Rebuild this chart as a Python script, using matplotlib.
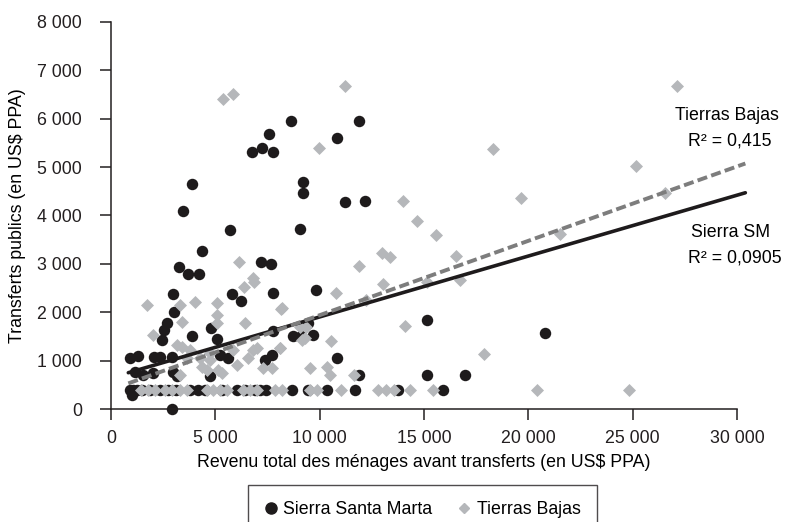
import numpy as np
import matplotlib
matplotlib.use("Agg")
import matplotlib.pyplot as plt
from matplotlib.lines import Line2D

# Sierra Santa Marta households (black circles)
sierra_x = [8640, 11880, 7590, 6740, 7220, 7780, 10830, 11220, 12150, 3900,
            3440, 9180, 9210, 5700, 9060, 4370, 3270, 3670, 4220, 7180,
            7650, 2990, 5820, 6210, 7780, 9820, 3010, 2700, 2520, 2430,
            3880, 4800, 5060, 7780, 8700, 9090, 9680, 9420,
            900, 1290, 2060, 2350, 2910, 5230, 5620, 7380, 7700, 10830,
            1150, 1550, 2030, 2990, 3150, 4760, 990, 2900,
            15130, 20790, 11870, 15140, 16980]
sierra_y = [5960, 5960, 5680, 5320, 5400, 5320, 5610, 4270, 4290, 4660,
            4100, 4700, 4460, 3710, 3730, 3270, 2930, 2800, 2800, 3040,
            2995, 2375, 2370, 2240, 2390, 2450, 2000, 1770, 1640, 1425,
            1510, 1670, 1440, 1615, 1510, 1510, 1520, 1770,
            1060, 1100, 1080, 1070, 1080, 1110, 1050, 1020, 1120, 1050,
            760, 700, 740, 770, 680, 690, 280, 0,
            1850, 1570, 710, 710, 710]
# households receiving the flat ~400 transfer
sierra_row_x = [910, 1050, 1250, 1490, 1870, 2350, 2730, 3115, 3790, 4170,
                4500, 5320, 6040, 6420, 6900, 7140, 7430, 8660, 9455, 10350,
                11690, 13770, 15890]
sierra_row_y = [400] * len(sierra_row_x)

# Tierras Bajas households (grey diamonds)
tierras_x = [5380, 5860, 11210, 27130, 9950, 18320, 19630, 13990, 14680, 15590,
             13000, 13370, 16550, 11880, 21500, 25160, 26550, 13050, 10800, 12230,
             15130, 16720, 8180, 9340, 9150, 14090, 10560, 8100, 17870, 9540,
             10340, 10490, 11660, 6150, 6820, 6370, 6850, 8130, 1710, 3310,
             4030, 3390, 2000, 3150, 3390, 3790, 4265, 4745, 3630, 4345,
             3310, 4585, 5065, 5065, 5090, 6420, 9300, 9060, 5860, 6980,
             6820, 8100, 6020, 6580, 7300, 7700, 5140, 5300, 4745]
tierras_y = [6400, 6520, 6680, 6670, 5400, 5365, 4370, 4290, 3885, 3600,
             3230, 3150, 3160, 2950, 3620, 5020, 4460, 2575, 2400, 2250,
             2630, 2665, 2080, 1700, 1425, 1725, 1400, 1260, 1140, 840,
             875, 700, 700, 3040, 2700, 2515, 2630, 2060, 2160, 2160,
             2215, 1800, 1520, 1320, 1290, 1220, 1045, 1150, 1045, 875,
             700, 805, 2185, 1770, 1940, 1785, 1460, 1700, 1220, 1255,
             1220, 1255, 910, 1045, 840, 840, 805, 735, 1010]
tierras_row_x = [1440, 1770, 2110, 2590, 2920, 3310, 3640, 4600, 4890, 5220,
                 5560, 6330, 6660, 7000, 7860, 8190, 9540, 9870, 11020, 12800,
                 13180, 13550, 14330, 15430, 20410, 24830]
tierras_row_y = [400] * len(tierras_row_x)

# linear trend lines (end points)
trend_x = [830, 30400]
sierra_trend_y = [750, 4470]
tierras_trend_y = [530, 5075]

x_ticks = [0, 5000, 10000, 15000, 20000, 25000, 30000]
x_tick_labels = ["0", "5 000", "10 000", "15 000", "20 000", "25 000", "30 000"]
y_ticks = [0, 1000, 2000, 3000, 4000, 5000, 6000, 7000, 8000]
y_tick_labels = ["0", "1 000", "2 000", "3 000", "4 000", "5 000", "6 000", "7 000", "8 000"]

plt.rcParams["font.family"] = ["Liberation Sans", "DejaVu Sans"]
plt.rcParams["font.size"] = 12.8

black = "#1e1b1c"
grey = "#b5b7ba"
dark_grey = "#7d7d7d"

fig = plt.figure(figsize=(7.85, 5.22), dpi=100)
ax = fig.add_axes([111 / 785, 113 / 522, 626 / 785, 387 / 522])

# scatter: black series first, grey on top (as in the original)
ax.scatter(sierra_x + sierra_row_x, sierra_y + sierra_row_y, s=68, marker="o",
           color=black, linewidths=0, clip_on=False, zorder=2)
ax.scatter(tierras_x + tierras_row_x, tierras_y + tierras_row_y, s=44, marker="D",
           color=grey, linewidths=0, clip_on=False, zorder=3)

# trend lines
ax.plot(trend_x, sierra_trend_y, color=black, lw=2.6, solid_capstyle="round",
        clip_on=False, zorder=4)
ax.plot(trend_x, tierras_trend_y, color=dark_grey, lw=2.8, linestyle=(0, (2.6, 1.1)),
        clip_on=False, zorder=5)

ax.text(29520, 5970, "Tierras Bajas", ha="center", va="baseline")
ax.text(29660, 5455, "R² = 0,415", ha="center", va="baseline")
ax.text(29710, 3554, "Sierra SM", ha="center", va="baseline")
ax.text(29900, 3037, "R² = 0,0905", ha="center", va="baseline")

ax.set_xlim(0, 30000)
ax.set_ylim(0, 8000)
ax.set_xticks(x_ticks)
ax.set_xticklabels(x_tick_labels)
ax.set_yticks(y_ticks)
ax.set_yticklabels(y_tick_labels)
ax.tick_params(direction="out", length=8, width=1.1, colors="#231f20")
ax.tick_params(axis="x", pad=7)
ax.tick_params(axis="y", pad=13)
for side in ["top", "right"]:
    ax.spines[side].set_visible(False)
for side in ["left", "bottom"]:
    ax.spines[side].set_linewidth(1.1)
    ax.spines[side].set_color("#231f20")

ax.set_xlabel("Revenu total des ménages avant transferts (en US$ PPA)", labelpad=5)
ax.set_ylabel("Transferts publics (en US$ PPA)", labelpad=8)

# legend below the plot, box runs off the bottom edge
handles = [
    Line2D([], [], marker="o", color=black, linestyle="none", markersize=8),
    Line2D([], [], marker="D", color=grey, linestyle="none", markersize=5.5),
]
fig.legend(handles, ["Sierra Santa Marta", "Tierras Bajas"], loc="upper center",
           bbox_to_anchor=(422 / 785, 1 - 485 / 522), borderaxespad=0, ncol=2,
           frameon=True, fancybox=False, edgecolor="#231f20", handletextpad=0.3,
           columnspacing=1.4, borderpad=0.9, handlelength=0.8)

fig.savefig("out.png", dpi=100)
